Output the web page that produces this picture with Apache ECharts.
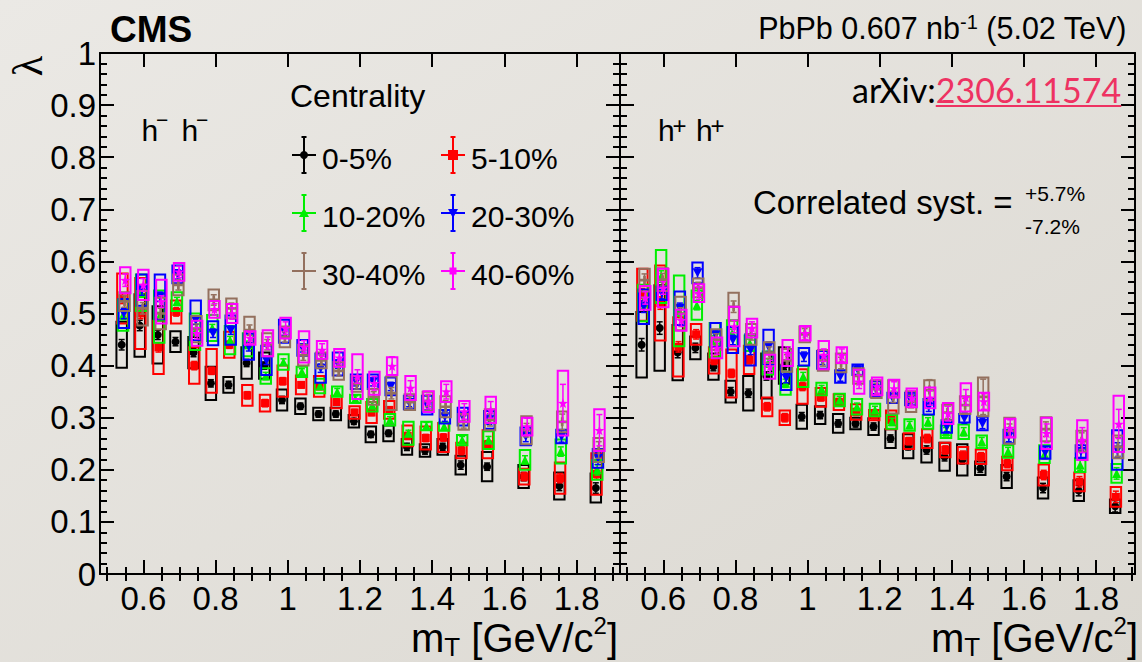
<!DOCTYPE html>
<html>
<head>
<meta charset="utf-8">
<script src="https://cdn.jsdelivr.net/npm/echarts@6/dist/echarts.min.js"></script>
<style>
  html, body { margin: 0; padding: 0; background: #e3e1dc; }
  #chart { width: 1142px; height: 662px; }
</style>
</head>
<body>
<div id="chart"></div>
<script>
// m_T bin centres (GeV/c^2)
const mT = [0.545, 0.595, 0.645, 0.694, 0.744, 0.792, 0.841, 0.891, 0.940, 0.989, 1.040, 1.090,
            1.138, 1.188, 1.235, 1.284, 1.335, 1.385, 1.434, 1.484, 1.557, 1.658, 1.757, 1.858];

const xTicksMajor = [0.6, 0.8, 1.0, 1.2, 1.4, 1.6, 1.8];
const xTicksMinor = [0.5, 0.55, 0.65, 0.7, 0.75, 0.85, 0.9, 0.95, 1.05, 1.1, 1.15, 1.25, 1.3, 1.35,
                     1.45, 1.5, 1.55, 1.65, 1.7, 1.75, 1.85, 1.9];

const centralityLabels = ['0-5%', '5-10%', '10-20%', '20-30%', '30-40%', '40-60%'];

// ---- h- h- : lambda, systematic (box half-height), statistical uncertainty ----
const lamNeg_0_5   = [0.440, 0.477, 0.459, 0.446, 0.425, 0.366, 0.363, 0.405, 0.400, 0.334, 0.322, 0.307, 0.307, 0.293, 0.268, 0.270, 0.244, 0.237, 0.244, 0.209, 0.206, 0.187, 0.169, 0.165];
const sysNeg_0_5   = [0.044, 0.060, 0.055, 0.020, 0.030, 0.032, 0.015, 0.030, 0.025, 0.020, 0.015, 0.012, 0.012, 0.012, 0.015, 0.015, 0.015, 0.012, 0.015, 0.018, 0.028, 0.022, 0.026, 0.028];
const statNeg_0_5  = [0.010, 0.010, 0.009, 0.008, 0.008, 0.007, 0.007, 0.007, 0.007, 0.007, 0.006, 0.006, 0.006, 0.006, 0.006, 0.006, 0.007, 0.007, 0.007, 0.008, 0.007, 0.008, 0.009, 0.010];

const lamNeg_5_10  = [0.529, 0.500, 0.435, 0.503, 0.400, 0.390, 0.440, 0.343, 0.328, 0.370, 0.363, 0.360, 0.330, 0.310, 0.310, 0.315, 0.265, 0.261, 0.262, 0.237, 0.249, 0.187, 0.184, 0.192];
const sysNeg_5_10  = [0.048, 0.068, 0.051, 0.022, 0.035, 0.042, 0.025, 0.020, 0.016, 0.030, 0.018, 0.020, 0.012, 0.012, 0.020, 0.017, 0.020, 0.022, 0.028, 0.015, 0.027, 0.015, 0.030, 0.040];
const statNeg_5_10 = [0.010, 0.010, 0.009, 0.008, 0.008, 0.007, 0.007, 0.007, 0.007, 0.007, 0.006, 0.006, 0.006, 0.006, 0.006, 0.006, 0.007, 0.007, 0.007, 0.008, 0.007, 0.008, 0.009, 0.010];

const lamNeg_10_20  = [0.497, 0.540, 0.494, 0.523, 0.465, 0.472, 0.449, 0.440, 0.380, 0.407, 0.388, 0.361, 0.350, 0.336, 0.324, 0.296, 0.270, 0.284, 0.283, 0.257, 0.257, 0.219, 0.235, 0.200];
const sysNeg_10_20  = [0.030, 0.035, 0.050, 0.018, 0.035, 0.025, 0.027, 0.022, 0.015, 0.015, 0.010, 0.014, 0.010, 0.008, 0.012, 0.011, 0.022, 0.008, 0.008, 0.010, 0.017, 0.019, 0.023, 0.019];
const statNeg_10_20 = [0.009, 0.009, 0.008, 0.008, 0.007, 0.007, 0.007, 0.007, 0.007, 0.006, 0.006, 0.006, 0.006, 0.006, 0.006, 0.006, 0.006, 0.007, 0.007, 0.007, 0.007, 0.008, 0.009, 0.010];

const lamNeg_20_30  = [0.500, 0.545, 0.532, 0.575, 0.487, 0.462, 0.468, 0.436, 0.410, 0.466, 0.434, 0.395, 0.403, 0.369, 0.369, 0.360, 0.329, 0.324, 0.302, 0.302, 0.296, 0.264, 0.264, 0.222];
const sysNeg_20_30  = [0.028, 0.030, 0.043, 0.017, 0.038, 0.023, 0.028, 0.025, 0.028, 0.022, 0.015, 0.028, 0.022, 0.014, 0.014, 0.017, 0.013, 0.018, 0.013, 0.017, 0.017, 0.017, 0.013, 0.018];
const statNeg_20_30 = [0.010, 0.010, 0.009, 0.009, 0.008, 0.008, 0.008, 0.008, 0.008, 0.008, 0.008, 0.008, 0.008, 0.008, 0.008, 0.008, 0.008, 0.009, 0.009, 0.009, 0.009, 0.010, 0.011, 0.012];

const lamNeg_30_40  = [0.523, 0.510, 0.500, 0.555, 0.470, 0.526, 0.510, 0.468, 0.440, 0.455, 0.420, 0.410, 0.390, 0.365, 0.340, 0.347, 0.330, 0.332, 0.321, 0.292, 0.296, 0.276, 0.292, 0.238];
const sysNeg_30_40  = [0.018, 0.033, 0.030, 0.020, 0.025, 0.020, 0.019, 0.026, 0.022, 0.020, 0.020, 0.015, 0.017, 0.015, 0.015, 0.032, 0.015, 0.018, 0.020, 0.015, 0.020, 0.027, 0.020, 0.023];
const statNeg_30_40 = [0.011, 0.011, 0.010, 0.010, 0.010, 0.010, 0.010, 0.010, 0.010, 0.010, 0.010, 0.010, 0.010, 0.010, 0.010, 0.011, 0.011, 0.011, 0.012, 0.012, 0.012, 0.013, 0.015, 0.016];

const lamNeg_40_60  = [0.564, 0.555, 0.523, 0.580, 0.462, 0.508, 0.500, 0.453, 0.443, 0.472, 0.436, 0.430, 0.415, 0.379, 0.366, 0.399, 0.357, 0.331, 0.350, 0.312, 0.315, 0.283, 0.328, 0.276];
const sysNeg_40_60  = [0.025, 0.029, 0.042, 0.017, 0.024, 0.016, 0.018, 0.013, 0.025, 0.020, 0.030, 0.017, 0.017, 0.043, 0.022, 0.017, 0.023, 0.020, 0.020, 0.020, 0.025, 0.017, 0.062, 0.040];
const statNeg_40_60 = [0.012, 0.012, 0.011, 0.011, 0.011, 0.011, 0.011, 0.011, 0.012, 0.012, 0.012, 0.012, 0.012, 0.013, 0.013, 0.018, 0.014, 0.014, 0.014, 0.015, 0.016, 0.016, 0.036, 0.030];

// ---- h+ h+ ----
const lamPos_0_5   = [0.440, 0.472, 0.425, 0.434, 0.398, 0.350, 0.347, 0.380, 0.400, 0.302, 0.305, 0.289, 0.289, 0.283, 0.260, 0.245, 0.238, 0.225, 0.219, 0.203, 0.187, 0.165, 0.160, 0.130];
const sysPos_0_5   = [0.063, 0.082, 0.053, 0.022, 0.025, 0.021, 0.033, 0.043, 0.035, 0.023, 0.017, 0.018, 0.011, 0.016, 0.018, 0.023, 0.024, 0.027, 0.030, 0.013, 0.022, 0.020, 0.020, 0.013];
const statPos_0_5  = [0.012, 0.012, 0.010, 0.009, 0.008, 0.008, 0.008, 0.008, 0.008, 0.008, 0.007, 0.007, 0.007, 0.007, 0.007, 0.007, 0.008, 0.008, 0.008, 0.008, 0.008, 0.009, 0.010, 0.011];

const lamPos_5_10  = [0.536, 0.520, 0.436, 0.460, 0.410, 0.385, 0.411, 0.321, 0.300, 0.360, 0.339, 0.330, 0.311, 0.305, 0.296, 0.255, 0.260, 0.238, 0.228, 0.225, 0.212, 0.190, 0.177, 0.148];
const sysPos_5_10  = [0.050, 0.072, 0.057, 0.020, 0.025, 0.046, 0.027, 0.018, 0.014, 0.033, 0.018, 0.015, 0.015, 0.010, 0.018, 0.015, 0.018, 0.014, 0.016, 0.014, 0.013, 0.020, 0.018, 0.019];
const statPos_5_10 = [0.012, 0.012, 0.010, 0.009, 0.008, 0.008, 0.008, 0.008, 0.008, 0.008, 0.007, 0.007, 0.007, 0.007, 0.007, 0.007, 0.008, 0.008, 0.008, 0.008, 0.008, 0.009, 0.010, 0.011];

const lamPos_10_20  = [0.520, 0.571, 0.505, 0.516, 0.449, 0.462, 0.443, 0.405, 0.366, 0.379, 0.355, 0.334, 0.321, 0.315, 0.292, 0.286, 0.292, 0.273, 0.273, 0.254, 0.235, 0.230, 0.209, 0.193];
const sysPos_10_20  = [0.035, 0.051, 0.068, 0.028, 0.033, 0.025, 0.015, 0.022, 0.022, 0.020, 0.012, 0.012, 0.015, 0.012, 0.013, 0.011, 0.013, 0.012, 0.014, 0.012, 0.012, 0.017, 0.013, 0.018];
const statPos_10_20 = [0.011, 0.011, 0.010, 0.009, 0.008, 0.008, 0.008, 0.008, 0.008, 0.008, 0.007, 0.007, 0.007, 0.007, 0.007, 0.007, 0.008, 0.008, 0.008, 0.008, 0.008, 0.009, 0.010, 0.011];

const lamPos_20_30  = [0.513, 0.539, 0.510, 0.578, 0.459, 0.449, 0.430, 0.436, 0.376, 0.417, 0.411, 0.379, 0.392, 0.355, 0.338, 0.336, 0.321, 0.283, 0.299, 0.289, 0.264, 0.233, 0.235, 0.238];
const sysPos_20_30  = [0.033, 0.013, 0.032, 0.020, 0.023, 0.025, 0.030, 0.033, 0.023, 0.017, 0.017, 0.012, 0.010, 0.015, 0.010, 0.012, 0.015, 0.012, 0.008, 0.013, 0.013, 0.012, 0.012, 0.038];
const statPos_20_30 = [0.011, 0.011, 0.010, 0.010, 0.009, 0.009, 0.009, 0.009, 0.009, 0.009, 0.009, 0.009, 0.009, 0.009, 0.009, 0.009, 0.009, 0.010, 0.010, 0.010, 0.010, 0.011, 0.012, 0.014];

const lamPos_30_40  = [0.564, 0.565, 0.500, 0.549, 0.450, 0.513, 0.460, 0.425, 0.410, 0.460, 0.410, 0.405, 0.380, 0.355, 0.340, 0.331, 0.353, 0.310, 0.324, 0.340, 0.275, 0.278, 0.255, 0.244];
const sysPos_30_40  = [0.022, 0.022, 0.032, 0.018, 0.020, 0.027, 0.020, 0.020, 0.022, 0.015, 0.020, 0.018, 0.015, 0.017, 0.032, 0.020, 0.019, 0.015, 0.017, 0.037, 0.025, 0.023, 0.020, 0.022];
const statPos_30_40 = [0.012, 0.012, 0.011, 0.011, 0.011, 0.011, 0.011, 0.011, 0.011, 0.011, 0.011, 0.011, 0.011, 0.011, 0.011, 0.012, 0.020, 0.012, 0.013, 0.034, 0.013, 0.014, 0.016, 0.018];

const lamPos_40_60  = [0.530, 0.549, 0.487, 0.539, 0.434, 0.475, 0.472, 0.398, 0.424, 0.462, 0.420, 0.420, 0.369, 0.360, 0.356, 0.338, 0.338, 0.308, 0.339, 0.331, 0.280, 0.270, 0.257, 0.288];
const sysPos_40_60  = [0.023, 0.037, 0.020, 0.017, 0.020, 0.038, 0.018, 0.023, 0.025, 0.014, 0.027, 0.015, 0.023, 0.017, 0.017, 0.018, 0.020, 0.020, 0.027, 0.017, 0.018, 0.030, 0.038, 0.054];
const statPos_40_60 = [0.012, 0.012, 0.012, 0.012, 0.012, 0.012, 0.012, 0.012, 0.012, 0.012, 0.012, 0.012, 0.013, 0.013, 0.013, 0.014, 0.014, 0.014, 0.015, 0.015, 0.016, 0.018, 0.024, 0.028];

// ---------------------------------------------------------------------------
const FONT = '"Liberation Sans", Arial, Helvetica, sans-serif';
const LATO = 'Lato, "Open Sans", sans-serif';
const BROWN = '#93705e';
const COLORS = ['#000000', '#ff0000', '#00ee00', '#0000ff', BROWN, '#ff00ff'];
const SYMBOLS = [
  { symbol: 'circle', size: 8 },
  { symbol: 'rect', size: 8 },
  { symbol: 'triangle', size: 9 },
  { symbol: 'path://M0,0L10,0L5,9Z', size: [10, 9] },
  { symbol: 'path://M3.5,0H6.5V3.5H10V6.5H6.5V10H3.5V6.5H0V3.5H3.5Z', size: 9 },
  { symbol: 'path://M5,0L6.2,3.5L10,3.6L7,5.9L8.1,9.5L5,7.4L1.9,9.5L3,5.9L0,3.6L3.8,3.5Z', size: 10 }
];
const X_SHIFT = [-0.005, -0.003, -0.001, 0.001, 0.003, 0.005];   // slight staggering of the centralities
const BOX_HALF = 0.0145;

const panels = [
  {
    lam:  [lamNeg_0_5, lamNeg_5_10, lamNeg_10_20, lamNeg_20_30, lamNeg_30_40, lamNeg_40_60],
    sys:  [sysNeg_0_5, sysNeg_5_10, sysNeg_10_20, sysNeg_20_30, sysNeg_30_40, sysNeg_40_60],
    stat: [statNeg_0_5, statNeg_5_10, statNeg_10_20, statNeg_20_30, statNeg_30_40, statNeg_40_60],
    xAxisIndex: 0, yAxisIndex: 0
  },
  {
    lam:  [lamPos_0_5, lamPos_5_10, lamPos_10_20, lamPos_20_30, lamPos_30_40, lamPos_40_60],
    sys:  [sysPos_0_5, sysPos_5_10, sysPos_10_20, sysPos_20_30, sysPos_30_40, sysPos_40_60],
    stat: [statPos_0_5, statPos_5_10, statPos_10_20, statPos_20_30, statPos_30_40, statPos_40_60],
    xAxisIndex: 4, yAxisIndex: 2
  }
];

const AXIS_LINE = { color: '#000', width: 2 };
const fmt = v => String(parseFloat(Number(v).toFixed(2)));

function xAxes(gridIndex, min, max, position, withLabels) {
  return [
    {
      type: 'value', gridIndex, min, max, position,
      axisLine: { show: true, onZero: false, lineStyle: AXIS_LINE },
      axisTick: { show: true, inside: true, length: 14, customValues: xTicksMajor, lineStyle: AXIS_LINE },
      axisLabel: { show: withLabels, customValues: xTicksMajor, formatter: fmt, fontSize: 33,
                   fontFamily: FONT, color: '#000', margin: 8, showMinLabel: true, showMaxLabel: true },
      splitLine: { show: false }
    },
    {
      type: 'value', gridIndex, min, max, position,
      axisLine: { show: false },
      axisTick: { show: true, inside: true, length: 7, customValues: xTicksMinor, lineStyle: AXIS_LINE },
      axisLabel: { show: false },
      splitLine: { show: false }
    }
  ];
}

function yAxis(gridIndex, position, withLabels) {
  return {
    type: 'value', gridIndex, position, min: 0, max: 1, interval: 0.1,
    axisLine: { show: true, onZero: false, lineStyle: AXIS_LINE },
    axisTick: { show: true, inside: true, length: 14, lineStyle: AXIS_LINE },
    minorTick: { show: true, splitNumber: 5, length: 7, lineStyle: AXIS_LINE },
    axisLabel: { show: withLabels, formatter: fmt, fontSize: 33, fontFamily: FONT, color: '#000',
                 margin: 4, showMinLabel: true, showMaxLabel: true },
    splitLine: { show: false },
    minorSplitLine: { show: false }
  };
}

function errorRenderer(color) {
  return function (params, api) {
    const x = api.value(0), y = api.value(1), st = api.value(2), sy = api.value(3);
    const a = api.coord([x - BOX_HALF, y + sy]);
    const b = api.coord([x + BOX_HALF, y - sy]);
    const t = api.coord([x, y + st]);
    const d = api.coord([x, y - st]);
    const ls = { stroke: color, lineWidth: 1.5 };
    return {
      type: 'group',
      children: [
        { type: 'rect', shape: { x: a[0], y: a[1], width: b[0] - a[0], height: b[1] - a[1] },
          style: { fill: 'none', stroke: color, lineWidth: 2 } },
        { type: 'line', shape: { x1: t[0], y1: t[1], x2: d[0], y2: d[1] }, style: ls },
        { type: 'line', shape: { x1: t[0] - 3, y1: t[1], x2: t[0] + 3, y2: t[1] }, style: ls },
        { type: 'line', shape: { x1: d[0] - 3, y1: d[1], x2: d[0] + 3, y2: d[1] }, style: ls }
      ]
    };
  };
}

const series = [];
panels.forEach(p => {
  for (let k = 0; k < 6; k++) {
    const boxData = mT.map((m, i) => [m + X_SHIFT[k], p.lam[k][i], p.stat[k][i], p.sys[k][i]]);
    series.push({
      type: 'custom', name: centralityLabels[k], xAxisIndex: p.xAxisIndex, yAxisIndex: p.yAxisIndex,
      renderItem: errorRenderer(COLORS[k]), data: boxData, encode: { x: 0, y: 1 },
      z: 2 + 2 * k, silent: true, animation: false
    });
    series.push({
      type: 'scatter', name: centralityLabels[k], xAxisIndex: p.xAxisIndex, yAxisIndex: p.yAxisIndex,
      data: mT.map((m, i) => [m + X_SHIFT[k], p.lam[k][i]]),
      symbol: SYMBOLS[k].symbol, symbolSize: SYMBOLS[k].size,
      itemStyle: { color: COLORS[k], opacity: 1 },
      z: 3 + 2 * k, silent: true, animation: false
    });
  }
});

// ---- text and legend decorations ----
const mctx = document.createElement('canvas').getContext('2d');
function tw(str, size, weight, family) {
  mctx.font = `${weight || 'normal'} ${size}px ${family || FONT}`;
  return mctx.measureText(str).width;
}
const els = [];
function txt(str, x, base, size, o = {}) {
  els.push({
    type: 'text', silent: true, z: 100,
    style: {
      text: str, x: x, y: base - 0.31 * size, fill: o.fill || '#000',
      font: `${o.weight || 'normal'} ${size}px ${o.family || FONT}`,
      align: o.align || 'left', verticalAlign: 'middle',
      textAlign: o.align || 'left', textVerticalAlign: 'middle'
    }
  });
}
function runs(segs, x, base, anchor) {
  const total = segs.reduce((s, g) => s + tw(g.t, g.s, g.weight, g.family), 0);
  let cx = anchor === 'right' ? x - total : x;
  const pos = [];
  segs.forEach(g => {
    txt(g.t, cx, base + (g.dy || 0), g.s, g);
    pos.push([cx, cx + tw(g.t, g.s, g.weight, g.family)]);
    cx += tw(g.t, g.s, g.weight, g.family);
  });
  return pos;
}
function line(x1, y1, x2, y2, color, w) {
  els.push({ type: 'line', silent: true, z: 100, shape: { x1, y1, x2, y2 },
             style: { stroke: color, lineWidth: w || 2 } });
}

// header
txt('CMS', 110, 41, 37, { weight: 'bold' });
runs([{ t: 'PbPb 0.607 nb', s: 30.5 }, { t: '-1', s: 20, dy: -9 }, { t: ' (5.02 TeV)', s: 30.5 }], 1127, 37, 'right');

// axis titles
els.push({ type: 'text', silent: true, z: 100, x: 28, y: 66, rotation: Math.PI / 2,
  style: { text: 'λ', x: 0, y: 0, fill: '#000', font: `normal 42px "Liberation Serif", serif`,
           align: 'center', verticalAlign: 'middle', textAlign: 'center', textVerticalAlign: 'middle' } });
const titleSegs = [{ t: 'm', s: 40 }, { t: 'T', s: 26, dy: 5 }, { t: ' [GeV/c', s: 40 }, { t: '2', s: 24, dy: -17 }, { t: ']', s: 40 }];
runs(titleSegs, 618, 650, 'right');
runs(titleSegs, 1138, 650, 'right');

// panel tags
txt('h', 141.5, 140, 30); txt('\u2212', 156, 126.5, 21);
txt('h', 181.5, 140, 30); txt('\u2212', 196, 126.5, 21);
txt('h', 658, 140, 30); txt('+', 672.5, 132.5, 24);
txt('h', 696, 140, 30); txt('+', 710.5, 132.5, 24);

// arXiv reference
const arx = runs([{ t: 'arXiv:', s: 34, family: LATO }, { t: '2306.11574', s: 34, family: LATO, fill: '#ee3262' }], 852, 100, 'left');
line(arx[1][0], 106, arx[1][1], 106, '#ee3262', 2);

// correlated systematic note
txt('Correlated syst. =', 753, 213, 33);
txt('+5.7%', 1025, 200, 21);
txt('-7.2%', 1025, 233, 21);

// legend
txt('Centrality', 290, 106, 32);
const legendPos = [[304, 155], [453, 155], [304, 213], [453, 213], [304, 271], [453, 271]];
const legendBase = [168, 168, 226, 226, 284, 284];
legendPos.forEach(([cx, cy], k) => {
  const c = COLORS[k];
  line(cx - 12, cy, cx + 12, cy, c, 2);
  line(cx, cy - 18, cx, cy + 18, c, 2);
  line(cx - 2.5, cy - 18, cx + 2.5, cy - 18, c, 2);
  line(cx - 2.5, cy + 18, cx + 2.5, cy + 18, c, 2);
  if (k === 0) els.push({ type: 'circle', silent: true, z: 101, shape: { cx, cy, r: 4 }, style: { fill: c } });
  if (k === 1) els.push({ type: 'rect', silent: true, z: 101, shape: { x: cx - 5, y: cy - 5, width: 10, height: 10 }, style: { fill: c } });
  if (k === 2) els.push({ type: 'polygon', silent: true, z: 101, shape: { points: [[cx - 5, cy + 4], [cx + 5, cy + 4], [cx, cy - 5]] }, style: { fill: c } });
  if (k === 3) els.push({ type: 'polygon', silent: true, z: 101, shape: { points: [[cx - 5, cy - 4], [cx + 5, cy - 4], [cx, cy + 5]] }, style: { fill: c } });
  if (k === 5) els.push({ type: 'rect', silent: true, z: 101, shape: { x: cx - 3.5, y: cy - 3.5, width: 7, height: 7 }, style: { fill: c } });
  txt(centralityLabels[k], cx + 18, legendBase[k], 30);
});

// ---------------------------------------------------------------------------
const chart = echarts.init(document.getElementById('chart'), null, { renderer: 'svg', width: 1142, height: 662 });
chart.setOption({
  animation: false,
  backgroundColor: {
    type: 'linear', x: 0, y: 0, x2: 1, y2: 1,
    colorStops: [{ offset: 0, color: '#ebe9e5' }, { offset: 1, color: '#dbd8d1' }]
  },
  grid: [
    { left: 100, top: 53, width: 520, height: 521, containLabel: false },
    { left: 620, top: 53, width: 515, height: 521, containLabel: false }
  ],
  xAxis: [
    ...xAxes(0, 0.48, 1.92, 'bottom', true),
    ...xAxes(0, 0.48, 1.92, 'top', false),
    ...xAxes(1, 0.48, 1.908, 'bottom', true),
    ...xAxes(1, 0.48, 1.908, 'top', false)
  ],
  yAxis: [
    yAxis(0, 'left', true),
    yAxis(0, 'right', false),
    yAxis(1, 'left', false),
    yAxis(1, 'right', false)
  ],
  series: series,
  graphic: { elements: els }
});
</script>
</body>
</html>
